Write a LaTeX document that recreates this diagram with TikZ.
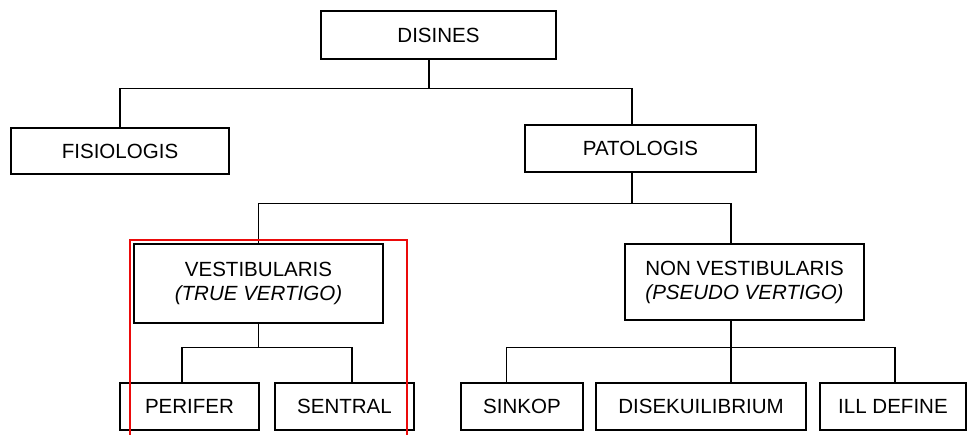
\documentclass[tikz,border=0pt]{standalone}
\usepackage{fontspec}
\setmainfont{Liberation Sans}
\usepackage{tikz}
\usetikzlibrary{positioning}
\tikzset{>=latex}
\definecolor{markred}{RGB}{235, 10, 10}

\tikzset{
  box/.style={draw, line width=0.9pt, inner sep=0pt, align=center, minimum height=1.175cm, font=\fontsize{14.6}{17}\selectfont},
  link/.style={line width=0.9pt}
}

\begin{document}
\begin{tikzpicture}[x=0.025cm, y=-0.025cm]
\useasboundingbox (0,0) rectangle (979,434);

\node[box, minimum width=5.875cm, minimum height=1.2cm] (disines) at (438.5, 35) {DISINES};

\node[box, minimum width=5.45cm, minimum height=1.15cm] (fisio) at (120, 151) {FISIOLOGIS};
\node[box, minimum width=5.775cm] (pato) at (640.5, 148.5) {PATOLOGIS};

\node[box, minimum width=6.225cm, minimum height=1.975cm] (vest) at (258.5, 283.5) {VESTIBULARIS\\\textit{(TRUE VERTIGO)}};
\node[box, minimum width=5.975cm, minimum height=1.9cm] (nonv) at (744.5, 282) {NON VESTIBULARIS\\\textit{(PSEUDO VERTIGO)}};

\node[box, minimum width=3.475cm] (perifer) at (189.5, 406.5) {PERIFER};
\node[box, minimum width=3.475cm] (sentral) at (344.5, 406.5) {SENTRAL};
\node[box, minimum width=3.05cm] (sinkop) at (522, 406.5) {SINKOP};
\node[box, minimum width=5.25cm] (disek) at (701, 406.5) {DISEKUILIBRIUM};
\node[box, minimum width=3.65cm] (ill) at (893, 406.5) {ILL DEFINE};

% disines
\draw[link] ([xshift=-0.24cm]disines.south) -- ++(0,29) coordinate (j1);
\draw[link] (fisio.north) |- (j1) -| ([xshift=-0.21cm]pato.north);

% patologis
\draw[link] ([xshift=-0.21cm]pato.south) -- ++(0,31) coordinate (j2);
\draw[link] (vest.north) |- (j2) -| ([xshift=-0.34cm]nonv.north);

% vestibularis
\draw[link] (vest.south) -- ++(0,24) coordinate (j3);
\draw[link] ([xshift=-0.19cm]perifer.north) |- (j3) -| ([xshift=0.19cm]sentral.north);

% non vestibularis
\draw[link] ([xshift=-0.34cm]nonv.south) -- ++(0,27) coordinate (j4);
\draw[link] ([xshift=-0.38cm]sinkop.north) |- (j4) -| ([xshift=0.05cm]ill.north);
\draw[link] (j4) -- (j4 |- disek.north);

% marked part
\draw[markred, line width=1pt] (130,436) -- (130,240) -- (407,240) -- (407,436);

\end{tikzpicture}
\end{document}
